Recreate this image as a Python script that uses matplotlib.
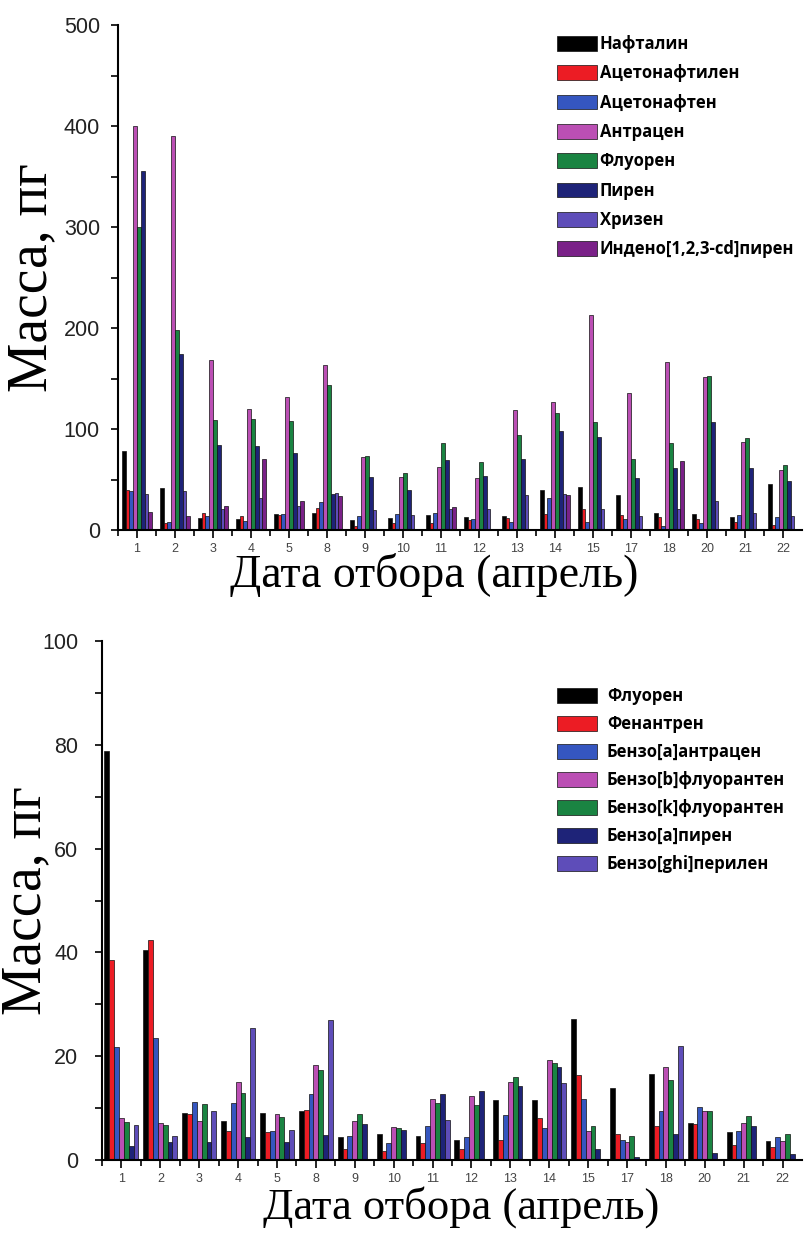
import matplotlib
matplotlib.use("Agg")
import matplotlib.pyplot as plt
import numpy as np
from matplotlib.ticker import MultipleLocator

# ---------------- data ----------------
dates = ["1", "2", "3", "4", "5", "8", "9", "10", "11", "12", "13", "14",
         "15", "17", "18", "20", "21", "22"]

# top chart (Масса, пг)
top_names = ["Нафталин", "Ацетонафтилен", "Ацетонафтен", "Антрацен",
             "Флуорен", "Пирен", "Хризен", "Индено[1,2,3-cd]пирен"]
naphthalene   = [78, 42, 12, 11, 16, 17, 10, 12, 15, 13, 14, 40, 43, 35, 17, 16, 13, 46]
acenaphthylene = [40, 7, 17, 14, 15, 22, 4, 7, 7, 10, 12, 16, 21, 15, 13, 11, 8, 5]
acenaphthene  = [39, 8, 14, 9, 16, 28, 14, 16, 17, 11, 8, 32, 8, 11, 4, 7, 15, 13]
anthracene    = [400, 390, 168, 120, 132, 163, 72, 52, 62, 51, 119, 127, 213, 136, 166, 151, 87, 59]
fluorene_top  = [300, 198, 109, 110, 108, 144, 73, 56, 86, 67, 94, 116, 107, 70, 86, 152, 91, 64]
pyrene        = [355, 174, 84, 83, 76, 36, 52, 40, 69, 53, 70, 98, 92, 51, 61, 107, 61, 49]
chrysene      = [36, 39, 21, 32, 24, 37, 20, 15, 21, 21, 35, 36, 21, 14, 21, 29, 17, 14]
indeno        = [18, 14, 24, 70, 29, 34, 0, 0, 23, 0, 0, 35, 0, 0, 68, 0, 0, 0]
top_series = [naphthalene, acenaphthylene, acenaphthene, anthracene,
              fluorene_top, pyrene, chrysene, indeno]

# bottom chart
bot_names = ["Флуорен", "Фенантрен", "Бензо[a]антрацен", "Бензо[b]флуорантен",
             "Бензо[k]флуорантен", "Бензо[a]пирен", "Бензо[ghi]перилен"]
fluorene_bot = [78.8, 40.4, 9.0, 7.5, 9.1, 9.5, 4.4, 5.0, 4.6, 3.9, 11.6, 11.6, 27.1, 13.9, 16.6, 7.2, 5.3, 3.7]
phenanthrene = [38.6, 42.4, 8.8, 5.6, 5.4, 9.7, 2.2, 1.7, 3.2, 2.1, 3.8, 8.0, 16.3, 5.0, 6.6, 7.0, 2.9, 2.5]
baa          = [21.7, 23.6, 11.1, 11.0, 5.6, 12.7, 4.6, 3.3, 6.6, 4.4, 8.7, 6.1, 11.7, 3.9, 9.4, 10.3, 5.5, 4.5]
bbf          = [8.0, 7.1, 7.6, 15.1, 8.9, 18.3, 7.5, 6.3, 11.7, 12.4, 15.0, 19.3, 5.6, 3.5, 18.0, 9.5, 7.2, 3.7]
bkf          = [7.4, 6.8, 10.8, 13.0, 8.2, 17.4, 8.9, 6.1, 10.9, 10.6, 15.9, 18.7, 6.5, 4.6, 15.4, 9.5, 8.5, 5.0]
bap          = [2.7, 3.4, 3.4, 4.5, 3.4, 4.8, 7.0, 5.8, 12.8, 13.2, 14.3, 18.0, 2.1, 0.6, 5.0, 1.3, 6.6, 1.2]
bghip        = [6.7, 4.7, 9.4, 25.5, 5.8, 27.0, 0, 0, 7.7, 0, 0, 14.8, 0, 0, 21.9, 0, 0, 0]
bot_series = [fluorene_bot, phenanthrene, baa, bbf, bkf, bap, bghip]

top_colors = ["#000000", "#ec1c24", "#3556c0", "#bb4fb4", "#1a8442",
              "#1e2378", "#5e4db9", "#7a2188"]
bot_colors = ["#000000", "#ec1c24", "#3556c0", "#bb4fb4", "#1a8442",
              "#1e2378", "#5e4db9"]

# ---------------- figure ----------------
W, H = 806, 1243
fig = plt.figure(figsize=(W / 100, H / 100), dpi=100)


def px_axes(l, t, r, b):
    return fig.add_axes([l / W, 1 - b / H, (r - l) / W, (b - t) / H])


def style_axes(ax, ymax, ymajor, yminor, ypad):
    for s in ["top", "right"]:
        ax.spines[s].set_visible(False)
    for s in ["left", "bottom"]:
        ax.spines[s].set_linewidth(1.5)
    ax.set_ylim(0, ymax)
    ax.set_xlim(-0.5, len(dates) - 0.5)
    ax.yaxis.set_major_locator(MultipleLocator(ymajor))
    ax.yaxis.set_minor_locator(MultipleLocator(yminor))
    ax.set_xticks(np.arange(len(dates)))
    ax.set_xticks(np.arange(len(dates)) - 0.5, minor=True)
    ax.set_xticklabels(dates, fontsize=9, color="#444444", family="Liberation Sans")
    ax.tick_params(axis="x", which="major", direction="out", length=6, width=1.2, pad=3)
    ax.tick_params(axis="x", which="minor", direction="out", length=4, width=1.2)
    ax.tick_params(axis="y", which="both", direction="out", length=5, width=1.2, pad=ypad)
    for lab in ax.get_yticklabels():
        lab.set_fontsize(15.5)
        lab.set_family("Liberation Sans")
        lab.set_color("#222222")


def draw_bars(ax, series, colors, names, bw):
    n = len(series)
    x = np.arange(len(dates))
    for i, (vals, c, nm) in enumerate(zip(series, colors, names)):
        off = (i - (n - 1) / 2) * bw
        ax.bar(x + off, vals, width=bw, color=c, edgecolor="#111111",
               linewidth=0.5, label=nm)


# top chart
ax1 = px_axes(118, 25, 802, 530)
draw_bars(ax1, top_series, top_colors, top_names, 0.1)
style_axes(ax1, 500, 100, 50, 8)
ax1.set_ylabel("Масса, пг", family="Liberation Serif", fontsize=40)
ax1.yaxis.set_label_coords(-0.088, 0.5)
ax1.set_xlabel("Дата отбора (апрель)", family="Liberation Serif", fontsize=33)
ax1.xaxis.set_label_coords(0.462, -0.046)
leg1 = ax1.legend(loc="upper left", bbox_to_anchor=(557 / W, 1 - 35 / H),
                  bbox_transform=fig.transFigure, frameon=False,
                  prop={"family": "Open Sans", "weight": "bold", "size": 12},
                  handlelength=2.4, handleheight=1.0, handletextpad=0.15,
                  labelspacing=0.68, borderpad=0, borderaxespad=0)

# bottom chart
ax2 = px_axes(102, 641, 802, 1160)
draw_bars(ax2, bot_series, bot_colors, bot_names, 0.125)
style_axes(ax2, 100, 20, 10, 12)
ax2.set_ylabel("Масса, пг", family="Liberation Serif", fontsize=40)
ax2.yaxis.set_label_coords(-0.071, 0.5)
ax2.set_xlabel("Дата отбора (апрель)", family="Liberation Serif", fontsize=32)
ax2.xaxis.set_label_coords(0.513, -0.05)
leg2 = ax2.legend(loc="upper left", bbox_to_anchor=(557 / W, 1 - 687 / H),
                  bbox_transform=fig.transFigure, frameon=False,
                  prop={"family": "Open Sans", "weight": "bold", "size": 12},
                  handlelength=2.4, handleheight=1.0, handletextpad=0.6,
                  labelspacing=0.6, borderpad=0, borderaxespad=0)

fig.savefig("out.png", dpi=100)
